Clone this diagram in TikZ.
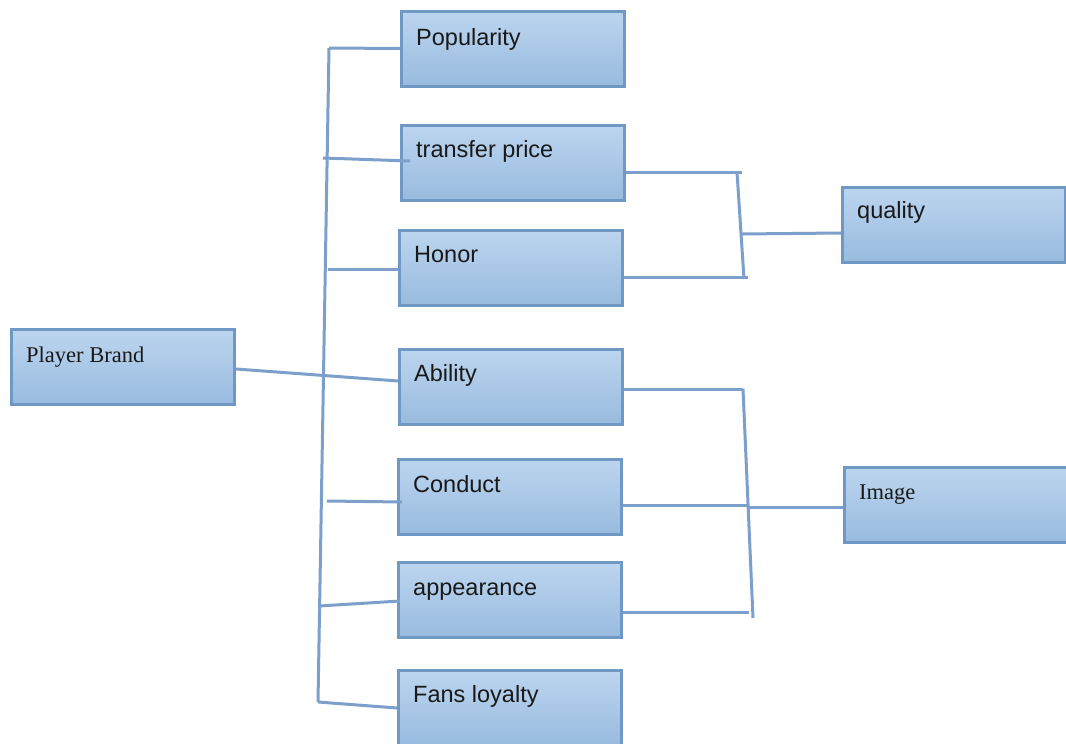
\documentclass[tikz,border=0pt]{standalone}
\usepackage{fontspec}
\setmainfont{Liberation Sans}
\newfontfamily\seriffont{Liberation Serif}
\usetikzlibrary{calc}
\definecolor{boxtop}{HTML}{BCD5EF}
\definecolor{boxbot}{HTML}{98BBDF}
\definecolor{boxline}{HTML}{6F98C5}
\definecolor{conn}{HTML}{7CA0CB}
\begin{document}
\begin{tikzpicture}[x=1pt,y=-1pt,
  box/.style={rectangle, draw=boxline, line width=3pt, top color=boxtop, bottom color=boxbot,
    minimum width=223pt, minimum height=75pt, inner sep=0pt},
  txt/.style={anchor=base west, inner sep=0pt, text=black!90, font=\fontsize{23.5}{27}\selectfont},
  stxt/.style={txt, font=\fontsize{22.5}{26}\selectfont\seriffont},
  conn/.style={draw=conn, line width=3pt}]
\fill[white] (0,0) rectangle (1066,744);
\useasboundingbox (0,0) rectangle (1066,744);

% boxes
\node[box] (pb)   at (123,367)   {};
\node[box] (pop)  at (513,48.5)  {};
\node[box] (tp)   at (513,162.5) {};
\node[box] (hon)  at (511,267.5) {};
\node[box] (abi)  at (511,386.5) {};
\node[box] (con)  at (510,497)   {};
\node[box] (app)  at (510,600)   {};
\node[box] (fan)  at (510,707.5) {};
\node[box] (qual) at (954,225)   {};
\node[box] (img)  at (956,505)   {};

% texts
\node[stxt] (tpb)   at ([shift={(16,34)}]pb.north west)   {Player Brand};
\node[txt]  (tpop)  at ([shift={(16,35.5)}]pop.north west)    {Popularity};
\node[txt]  (ttp)   at ([shift={(16,33.5)}]tp.north west)     {transfer price};
\node[txt]  (thon)  at ([shift={(16,34)}]hon.north west)  {Honor};
\node[txt]  (tabi)  at ([shift={(16,34)}]abi.north west)  {Ability};
\node[txt]  (tcon)  at ([shift={(16,34)}]con.north west)  {Conduct};
\node[txt]  (tapp)  at ([shift={(16,34)}]app.north west)  {appearance};
\node[txt]  (tfan)  at ([shift={(16,34)}]fan.north west)  {Fans loyalty};
\node[txt]  (tqual) at ([shift={(16,32)}]qual.north west) {quality};
\node[stxt] (timg)  at ([shift={(16,33)}]img.north west)  {Image};

% spine coordinates
\coordinate (sTop) at (329,48);
\coordinate (sBot) at (318,702);
\coordinate (sTp)  at (323,158);
\coordinate (sHon) at (328,269);
\coordinate (sCon) at (327,501);
\coordinate (sApp) at (319,606);
\coordinate (eTp)  at (410,161);
\coordinate (eCon) at (402,502);
\coordinate (eApp) at (400,601);
\coordinate (eFan) at (397,708);
\coordinate (eAbi) at (398,381);
\coordinate (ePb)  at (236,369);

% left tree
\path[conn] (sTop) -- (sBot);
\path[conn] (sTop) -- (pop.west);
\path[conn] (sTp) -- (eTp);
\path[conn] (sHon) -- (hon.west |- sHon);
\path[conn] (ePb) -- (eAbi);
\path[conn] (sCon) -- (eCon);
\path[conn] (sApp) -- (eApp);
\path[conn] (sBot) -- (eFan);

% quality bracket
\coordinate (q1) at (742,172);
\coordinate (q2) at (748,277);
\coordinate (qa) at (737,172);
\coordinate (qb) at (744,279);
\coordinate (qm) at (741,234);
\path[conn] (626,172) -- (q1);
\path[conn] (624,277) -- (q2);
\path[conn] (qa) -- (qb);
\path[conn] (qm) -- (qual.west |- 0,233);

% image bracket
\coordinate (i1) at (743,389);
\coordinate (i2) at (753,618);
\coordinate (i3) at (748,505);
\coordinate (i4) at (749,612);
\coordinate (im) at (748,507);
\path[conn] (abi.east |- i1) -- (i1);
\path[conn] (i1) -- (i2);
\path[conn] (con.east |- i3) -- (i3);
\path[conn] (app.east |- i4) -- (i4);
\path[conn] (im) -- (img.west |- im);
\end{tikzpicture}
\end{document}
